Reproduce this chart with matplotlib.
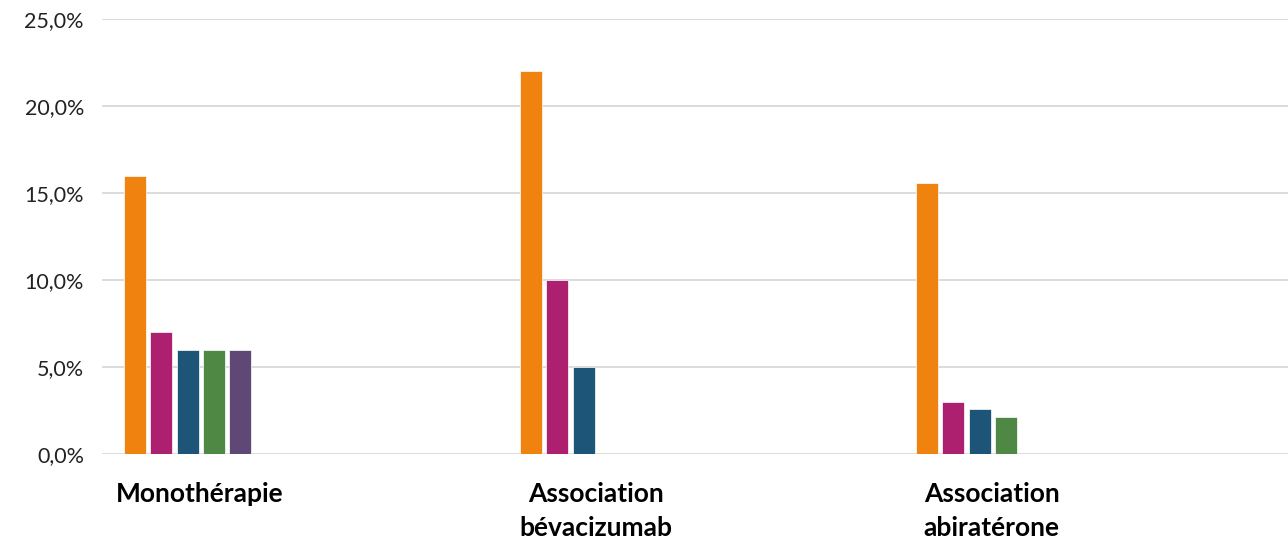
import matplotlib
matplotlib.use("Agg")
import matplotlib.pyplot as plt
from matplotlib.ticker import FuncFormatter, MultipleLocator

categories = ["Monothérapie", "Association\nbévacizumab", "Association\nabiratérone"]
series_colors = ["#F0820F", "#AD1F6F", "#1D5579", "#4F8745", "#5F4876"]
# values per category (percent); None = no bar
values = [
    [16.0, 7.0, 6.0, 6.0, 6.0],
    [22.0, 10.0, 5.0, None, None],
    [15.6, 3.0, 2.6, 2.1, None],
]

plt.rcParams['font.family'] = ['Lato', 'DejaVu Sans']

fig = plt.figure(figsize=(12.88, 5.38), dpi=100)
ax = fig.add_axes([102/1288, 84/538, 1 - 102/1288, (454-19.3)/538])

step = 0.0662
width = 0.0555
first = -0.163
for i, row in enumerate(values):
    for j, v in enumerate(row):
        if v is None:
            continue
        ax.bar(i + first + j*step, v, width=width, color=series_colors[j],
               edgecolor="#ffffff", linewidth=0.5, zorder=3)

ax.set_xlim(-0.247, 2.748)
ax.set_ylim(0, 25)
ax.yaxis.set_major_locator(MultipleLocator(5))
ax.yaxis.set_major_formatter(FuncFormatter(lambda v, p: f"{v:.1f}%".replace(".", ",")))
ax.grid(axis="y", color="#d9d9d9", linewidth=1.3, zorder=0)
for s in ax.spines.values():
    s.set_visible(False)
ax.tick_params(axis="y", length=0, pad=13, labelsize=15.5, labelcolor="#222222")
ax.tick_params(axis="x", length=0, pad=20)
ax.set_xticks(range(len(categories)))
ax.set_xticklabels(categories, fontweight="bold", fontsize=19, color="#000000",
                   linespacing=1.5, va="top")

fig.savefig("out.png", dpi=100)
